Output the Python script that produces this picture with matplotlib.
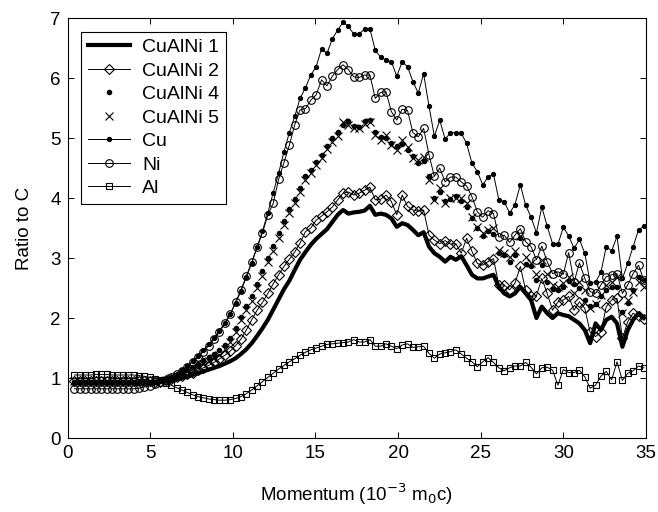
import numpy as np
import matplotlib
matplotlib.use('Agg')
from matplotlib import pyplot as plt

plt.rcParams['font.family'] = ['Liberation Sans', 'DejaVu Sans']

# momentum sample points (10^-3 m0 c), 107 channels
momentum = np.linspace(0.42, 34.87, 107)

cualni1 = [0.92, 0.92, 0.92, 0.92, 0.92, 0.92, 0.92, 0.92, 0.92, 0.92, 0.92, 0.92, 0.92, 0.92, 0.92,
           0.93, 0.94, 0.95, 0.96, 0.98, 1.00, 1.02, 1.05, 1.08, 1.11,
           1.14, 1.17, 1.20, 1.24, 1.28, 1.33, 1.40, 1.48, 1.58, 1.70,
           1.83, 1.97, 2.14, 2.31, 2.48, 2.62, 2.80, 2.97, 3.10, 3.22,
           3.32, 3.40, 3.48, 3.60, 3.72, 3.80, 3.74, 3.76, 3.77, 3.79,
           3.87, 3.72, 3.74, 3.72, 3.66, 3.52, 3.58, 3.55, 3.47, 3.38,
           3.43,
           3.19, 3.08, 3.02, 2.94, 3.02, 2.97, 3.03, 2.88, 2.72, 2.66,
           2.66, 2.69, 2.72, 2.52, 2.41, 2.36, 2.41, 2.52, 2.41, 2.30,
           2.00, 2.19, 2.08, 2.00, 2.08, 2.05, 2.03, 1.97, 1.91, 1.80,
           1.58, 1.91, 1.80, 1.97, 2.02, 1.91, 1.52, 1.80, 1.97, 2.08,
           2.00]

cualni2 = [0.95, 0.95, 0.95, 0.95, 0.95, 0.95, 0.95, 0.95, 0.95, 0.95, 0.95, 0.95, 0.95, 0.95, 0.95,
           0.94, 0.94, 0.96, 0.98, 1.01, 1.03, 1.06, 1.09, 1.13, 1.17,
           1.21, 1.26, 1.32, 1.38, 1.45, 1.54, 1.65, 1.80, 1.97, 2.13,
           2.26, 2.41, 2.57, 2.72, 2.86, 2.98, 3.10, 3.25, 3.44, 3.50,
           3.63, 3.70, 3.77, 3.85, 3.97, 4.08, 4.10, 4.05, 4.08, 4.13,
           4.18, 3.97, 3.98, 4.05, 3.94, 3.72, 4.05, 3.86, 3.80, 3.78,
           3.80,
           3.38, 3.30, 3.24, 3.29, 3.23, 3.24, 3.08, 3.33, 3.11, 2.91,
           2.88, 2.94, 2.99, 2.55, 2.55, 2.47, 2.58, 2.86, 2.46, 2.36,
           2.37, 2.66, 2.41, 2.13, 2.27, 2.30, 2.36, 2.13, 2.27, 2.16,
           1.76, 1.69, 1.77, 2.19, 2.30, 2.33, 1.66, 1.94, 2.08, 2.03,
           1.98]

cualni4 = [0.93, 0.93, 0.93, 0.93, 0.93, 0.93, 0.93, 0.93, 0.93, 0.93, 0.93, 0.93, 0.93, 0.93, 0.93,
           0.93, 0.95, 0.97, 1.00, 1.04, 1.08, 1.13, 1.18, 1.24, 1.30,
           1.35, 1.40, 1.46, 1.55, 1.67, 1.83, 2.02, 2.20, 2.36, 2.57,
           2.78, 3.00, 3.20, 3.42, 3.62, 3.82, 3.99, 4.17, 4.36, 4.46,
           4.60, 4.72, 4.86, 5.00, 5.10, 5.22, 5.28, 5.20, 5.18, 5.28,
           5.30, 5.10, 5.02, 5.00, 4.92, 4.86, 4.90, 4.80, 4.70, 4.58,
           4.62,
           4.36, 4.00, 4.10, 3.95, 3.98, 4.04, 3.95, 3.85, 3.66, 3.50,
           3.36, 3.45, 3.40, 3.08, 3.05, 2.94, 3.05, 3.33, 2.90, 2.86,
           2.63, 2.88, 2.60, 2.48, 2.47, 2.52, 2.62, 2.57, 2.50, 2.30,
           2.20, 2.24, 2.36, 2.47, 2.52, 2.52, 2.10, 2.25, 2.47, 2.69,
           2.64]

cualni5 = [0.95, 0.95, 0.95, 0.95, 0.95, 0.95, 0.95, 0.95, 0.95, 0.95, 0.95, 0.95, 0.95, 0.95, 0.95,
           0.94, 0.95, 0.97, 1.00, 1.03, 1.07, 1.11, 1.14, 1.19, 1.24,
           1.28, 1.33, 1.39, 1.48, 1.60, 1.77, 1.96, 2.13, 2.28, 2.50,
           2.70, 2.93, 3.12, 3.34, 3.55, 3.75, 3.92, 4.10, 4.30, 4.42,
           4.55, 4.66, 4.82, 4.94, 5.04, 5.27, 5.22, 5.16, 5.16, 5.24,
           5.27, 5.05, 4.97, 5.05, 4.88, 4.80, 4.97, 4.85, 4.66, 4.63,
           4.68,
           4.30, 3.97, 4.17, 3.91, 4.00, 4.00, 4.00, 3.91, 3.69, 3.51,
           3.41, 3.47, 3.50, 3.13, 3.08, 3.02, 3.11, 3.36, 3.02, 2.91,
           2.74, 2.97, 2.74, 2.55, 2.52, 2.58, 2.69, 2.41, 2.60, 2.47,
           2.16, 2.24, 2.38, 2.55, 2.60, 2.69, 2.08, 2.30, 2.44, 2.60,
           2.52]

cu = [0.92, 0.92, 0.92, 0.92, 0.92, 0.92, 0.92, 0.92, 0.92, 0.92, 0.92, 0.92, 0.92, 0.92, 0.92,
      0.93, 0.95, 0.98, 1.02, 1.07, 1.13, 1.20, 1.28, 1.37, 1.46,
      1.56, 1.67, 1.79, 1.92, 2.07, 2.25, 2.45, 2.68, 2.92, 3.18,
      3.45, 3.75,
      4.09, 4.41, 4.77, 5.09, 5.36, 5.66, 5.84, 6.05, 6.19, 6.49,
      6.41, 6.65, 6.80, 6.93, 6.86, 6.73, 6.74, 6.81, 6.82, 6.46,
      6.35, 6.30, 6.27, 6.03, 6.27, 6.19, 5.94, 5.75, 6.07, 5.53,
      5.03, 5.30, 4.98, 5.09, 5.09, 5.08, 4.91, 4.58, 4.44, 4.22,
      4.35, 4.40, 3.97, 3.94, 3.75, 3.89, 4.22, 3.88, 3.68, 3.42,
      3.85, 3.53, 3.24, 3.23, 3.51, 3.37, 3.16, 3.31, 3.08, 2.59,
      2.60, 2.76, 3.19, 3.12, 3.36, 2.66, 2.91, 3.19, 3.47, 3.53]

ni = [0.82, 0.82, 0.82, 0.82, 0.82, 0.82, 0.82, 0.82, 0.82, 0.82, 0.82, 0.82,
      0.83, 0.85, 0.87, 0.90, 0.93, 0.97, 1.01, 1.06, 1.12, 1.19,
      1.27, 1.35, 1.44, 1.54, 1.65, 1.77, 1.91, 2.06, 2.26, 2.47,
      2.70, 2.93, 3.18, 3.42, 3.72,
      3.91, 4.31, 4.59, 4.88, 5.22, 5.47, 5.49, 5.63, 5.72, 5.97,
      5.87, 6.03, 6.14, 6.22, 6.14, 6.02, 6.01, 6.05, 6.05, 5.66,
      5.76, 5.77, 5.44, 5.30, 5.48, 5.46, 5.09, 5.02, 5.16, 4.72,
      4.36, 4.50, 4.27, 4.35, 4.35, 4.27, 4.20, 4.02, 3.77, 3.68,
      3.79, 3.74, 3.35, 3.38, 3.26, 3.38, 3.49, 3.27, 3.19, 2.97,
      3.20, 2.94, 2.74, 2.77, 2.73, 3.09, 2.60, 2.92, 2.66, 2.44,
      2.41, 2.55, 2.69, 2.72, 2.74, 2.41, 2.55, 2.74, 2.88, 2.63]

al = [1.05, 1.05, 1.05, 1.05, 1.06, 1.06, 1.06, 1.05, 1.05, 1.05, 1.05, 1.05,
      1.04, 1.03, 1.01, 0.99, 0.96, 0.92, 0.88, 0.84, 0.80, 0.76,
      0.72, 0.69, 0.67, 0.65, 0.64, 0.63, 0.63, 0.64, 0.66, 0.69,
      0.74, 0.80, 0.87, 0.94, 1.01, 1.08, 1.15, 1.21, 1.27, 1.32,
      1.38, 1.43, 1.47, 1.50, 1.53, 1.56, 1.57, 1.58, 1.59, 1.60,
      1.64, 1.60, 1.60, 1.64, 1.53, 1.53, 1.57, 1.53, 1.49, 1.55,
      1.57, 1.51, 1.52, 1.53, 1.41, 1.33, 1.40, 1.42, 1.44, 1.47,
      1.40, 1.33, 1.27, 1.19, 1.27, 1.34, 1.26, 1.17, 1.12, 1.17,
      1.20, 1.20, 1.26, 1.18, 1.07, 1.17, 1.18, 1.13, 0.88, 1.14,
      1.09, 1.09, 1.13, 1.02, 0.83, 0.88, 1.03, 1.11, 0.97, 1.27,
      0.96, 1.08, 1.12, 1.20, 1.17]

fig = plt.figure(figsize=(6.58, 5.12), dpi=100)
ax = fig.add_axes([0.1026, 0.1445, 0.8792, 0.8203])

thin = 0.7
ax.plot(momentum, cualni1, '-', color='k', lw=3.0, label='CuAlNi 1')
ax.plot(momentum, cualni2, '-', color='k', lw=thin, marker='D', ms=5.5,
        mfc='none', mec='k', mew=0.8, label='CuAlNi 2')
ax.plot(momentum, cualni4, linestyle='none', marker='o', ms=3.0,
        color='k', label='CuAlNi 4')
ax.plot(momentum, cualni5, linestyle='none', marker='x', ms=6.0, mew=0.8,
        color='k', label='CuAlNi 5')
ax.plot(momentum, cu, '-', color='k', lw=thin, marker='o', ms=2.8, label='Cu')
ax.plot(momentum, ni, '-', color='k', lw=thin, marker='o', ms=5.5,
        mfc='none', mew=0.8, label='Ni')
ax.plot(momentum, al, '-', color='k', lw=thin, marker='s', ms=4.2,
        mfc='none', mew=0.8, label='Al')

ax.set_xlim(0, 35)
ax.set_ylim(0, 7)
ax.set_xticks(np.arange(0, 36, 5))
ax.set_yticks(np.arange(0, 8, 1))
ax.tick_params(direction='in', top=True, right=True, length=4, width=0.7,
               labelsize=13.5, pad=5)
for s in ax.spines.values():
    s.set_linewidth(0.8)

ax.set_xlabel('Momentum (10$^{-3}$ m$_0$c)', fontsize=13.5, labelpad=14)
ax.set_ylabel('Ratio to C', fontsize=13.5, labelpad=12)

leg = ax.legend(loc='upper left', bbox_to_anchor=(0.023, 0.967), borderaxespad=0,
                fancybox=False, edgecolor='k', framealpha=1, fontsize=14,
                numpoints=1, handlelength=2.2, labelspacing=0.3,
                borderpad=0.35, handletextpad=0.6)
leg.get_frame().set_linewidth(0.8)

fig.savefig('out.png', dpi=100)
